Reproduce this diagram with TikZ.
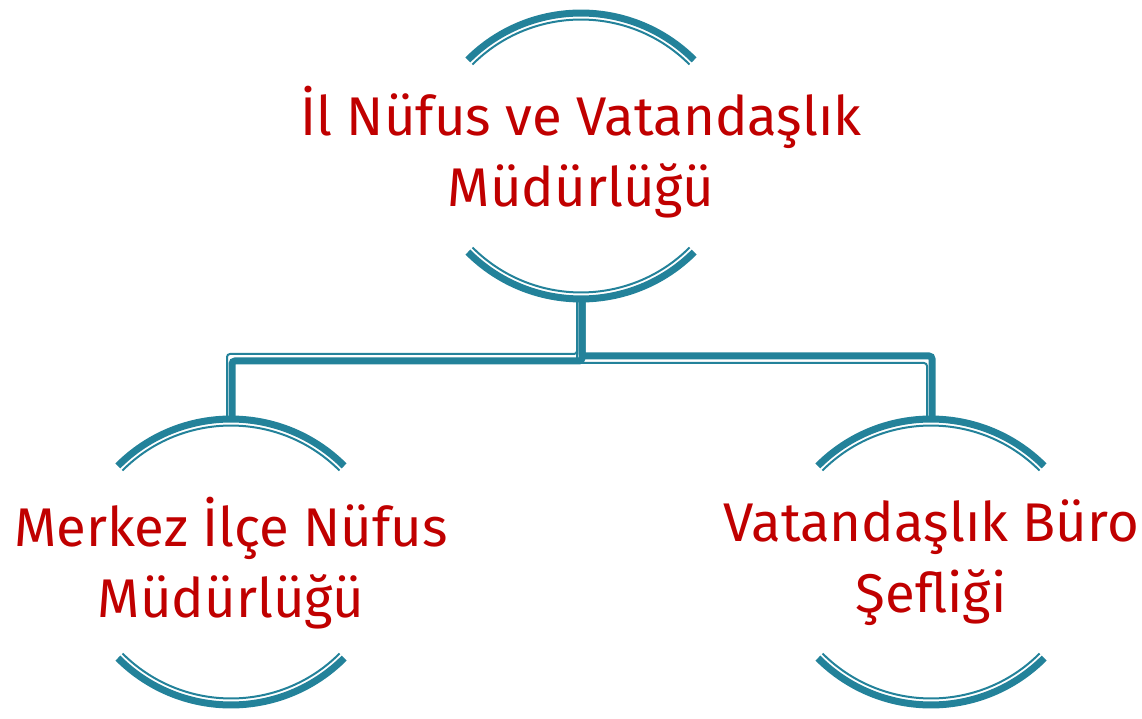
\documentclass[tikz,border=0pt]{standalone}
\usepackage{fontspec}
\setmainfont{Fira Sans}
\usetikzlibrary{calc}
\definecolor{archteal}{RGB}{35,130,154}
\definecolor{unitred}{RGB}{192,0,0}
\pgfdeclarelayer{nodelayer}
\pgfdeclarelayer{edgelayer}
\pgfsetlayers{edgelayer,nodelayer,main}
\tikzset{unit/.style={text=unitred, font=\fontsize{54.5}{71}\selectfont, align=center, inner sep=0pt}}
\tikzset{thickarc/.style={draw=archteal, line width=7pt}}
\tikzset{thinarc/.style={draw=archteal, line width=2pt}}
\tikzset{wire/.style={draw=archteal, line width=7pt, rounded corners=3pt}}
\tikzset{thinwire/.style={draw=archteal, line width=2pt, rounded corners=3pt}}

\begin{document}
\begin{tikzpicture}[x=1pt, y=1pt]
	\useasboundingbox (0,0) rectangle (1142,718);
	\begin{pgfonlayer}{nodelayer}
		\coordinate (0) at (581, 562);
		\coordinate (1) at (231, 156);
		\coordinate (2) at (931, 156);
		\node [style=unit] (3) at (581, 566) {İl Nüfus ve Vatandaşlık\\Müdürlüğü};
		\node [style=unit] (4) at (231, 155) {Merkez İlçe Nüfus\\Müdürlüğü};
		\node [style=unit] (5) at (931, 155) {Vatandaşlık Büro\\Şefliği};
		\coordinate (6) at ($(0)+(0,-143)$);
		\coordinate (7) at ($(1)+(0,143)$);
		\coordinate (8) at ($(2)+(0,143)$);
		\coordinate (9) at ($(6)+(0,-59)$);
	\end{pgfonlayer}
	\begin{pgfonlayer}{edgelayer}
		% arches round each unit
		\foreach \n in {0,1,2} {
			\draw [style=thickarc] ($(\n)+(113.1,96.1)$) arc [start angle=45, end angle=135, radius=160];
			\draw [style=thinarc] ($(\n)+(108.5,91.5)$) arc [start angle=45, end angle=135, radius=153.5];
			\draw [style=thickarc] ($(\n)+(-113.1,-96.1)$) arc [start angle=225, end angle=315, radius=160];
			\draw [style=thinarc] ($(\n)+(-108.5,-91.5)$) arc [start angle=225, end angle=315, radius=153.5];
		}
		\draw [style=thinwire] ($(6)+(-4,0)$) |- ($(7|-9)+(-4,4)$) -- ($(7)+(-4,0)$);
		\draw [style=thinwire] ($(6)+(-4,0)$) |- ($(8|-9)+(-4,-5)$) -- ($(8)+(-4,0)$);
		\draw [style=wire] ($(6)+(1,0)$) |- ($(7|-9)+(1,-3)$) -- ($(7)+(1,0)$);
		\draw [style=wire] ($(6)+(1,0)$) |- ($(8|-9)+(1,2)$) -- ($(8)+(1,0)$);
	\end{pgfonlayer}
\end{tikzpicture}
\end{document}
